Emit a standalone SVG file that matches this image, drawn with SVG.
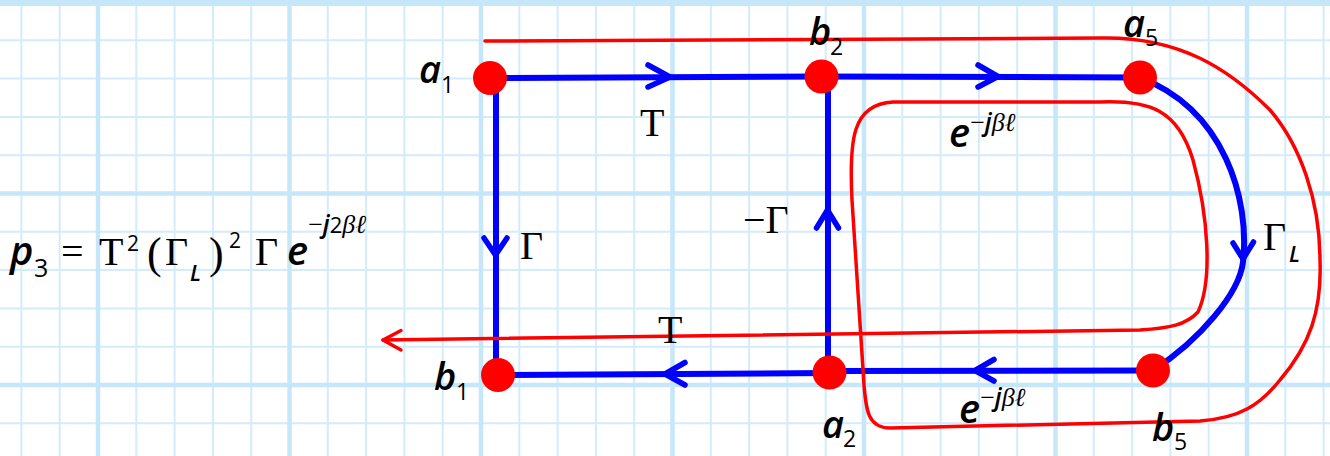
<svg xmlns="http://www.w3.org/2000/svg" width="1330" height="456" viewBox="0 0 1330 456">
<style>
.gmin{stroke:#d3ecfc;stroke-width:2;fill:none}
.gmaj{stroke:#c6e6fa;stroke-width:4.5;fill:none}
.edge{stroke:#0000ff;stroke-width:6;fill:none}
.arr{stroke:#0000ff;stroke-width:5.5;fill:none;stroke-linecap:round;stroke-linejoin:round}
.red{stroke:#ff0000;stroke-width:3.5;fill:none;stroke-linecap:round;stroke-linejoin:round}
.node{fill:#ff0000}
.it{font-family:"Open Sans","Noto Sans","Liberation Sans",sans-serif;font-style:italic;font-weight:600;fill:#000}
.sub{font-family:"Open Sans","Noto Sans","Liberation Sans",sans-serif;fill:#000}
.sr{font-family:"Liberation Serif","DejaVu Serif",serif;fill:#000}
.si{font-family:"Liberation Serif","DejaVu Serif",serif;font-style:italic;fill:#000}
</style>
<rect width="1330" height="456" fill="#ffffff"/>
<g id="grid">
<path class="gmin" d="M21.4 0V456M59.7 0V456M136.3 0V456M174.6 0V456M212.9 0V456M251.2 0V456M327.8 0V456M366.1 0V456M404.4 0V456M442.7 0V456M519.3 0V456M557.6 0V456M595.9 0V456M634.2 0V456M710.8 0V456M749.1 0V456M787.4 0V456M825.7 0V456M902.3 0V456M940.6 0V456M978.9 0V456M1017.2 0V456M1093.8 0V456M1132.1 0V456M1170.4 0V456M1208.7 0V456M1285.3 0V456M1323.6 0V456M0 40.3H1330M0 78.6H1330M0 116.9H1330M0 155.2H1330M0 231.8H1330M0 270.1H1330M0 308.4H1330M0 346.7H1330M0 423.3H1330"/>
<path class="gmaj" d="M98 0V456M289.5 0V456M481 0V456M672.5 0V456M864 0V456M1055.5 0V456M1247 0V456M0 193.5H1330M0 385H1330"/>
<rect x="0" y="0" width="1330" height="6" fill="#c6e6fa"/>
</g>
<g id="connectors">
<path class="edge" d="M490 78L821.5 76.5L1140 77.5"/>
<path class="edge" d="M496 78V375"/>
<path class="edge" d="M828 76.5V372.5"/>
<path class="edge" d="M498 375L829.5 373"/>
<path class="edge" d="M829.5 371L1153 370.5"/>
<path class="edge" d="M1140 77.5C1225 110 1250 200 1243 262C1239.5 293 1200 340 1153 370.5"/>
<polyline class="arr" points="648,65 670,77 648,87"/>
<polyline class="arr" points="978,65 998,76.5 978,87"/>
<polyline class="arr" points="484,238 495.5,255 507,238"/>
<polyline class="arr" points="816.5,228 827.5,210 838.5,228"/>
<polyline class="arr" points="1233,243 1243,259 1253.5,242"/>
<polyline class="arr" points="685,362.5 665,374 685,385"/>
<polyline class="arr" points="994,359.5 975,370.5 994,381"/>
<path class="red" d="M485 41L1100 38C1180 36 1230 70 1270 110C1300 145 1320 200 1320 260C1322 310 1310 345 1280 380C1260 405 1240 418 1200 421L890 428C868 428 866 410 864 385L852 200C849 140 852 104 893 102L1100 102C1150 100 1178 110 1193 160C1208 215 1213 280 1198 312C1186 325 1170 328 1140 330L383 340"/>
<polyline class="red" points="401,330.5 383,340 401,350"/>
</g>
<g id="node-a1"><circle class="node" cx="490" cy="78" r="17"/><text class="it" x="419" y="83" font-size="38">a</text><text class="sub" x="441" y="93" font-size="23">1</text></g>
<g id="node-b2"><circle class="node" cx="821.5" cy="76.5" r="17"/><text class="it" x="809" y="45" font-size="38">b</text><text class="sub" x="830" y="55" font-size="23">2</text></g>
<g id="node-a5"><circle class="node" cx="1140" cy="77.5" r="17"/><text class="it" x="1123" y="37" font-size="38">a</text><text class="sub" x="1145" y="46" font-size="23">5</text></g>
<g id="node-b1"><circle class="node" cx="498" cy="375" r="17"/><text class="it" x="434" y="390" font-size="38">b</text><text class="sub" x="456" y="400" font-size="23">1</text></g>
<g id="node-a2"><circle class="node" cx="829.5" cy="372.5" r="17"/><text class="it" x="822" y="438" font-size="38">a</text><text class="sub" x="843" y="447" font-size="23">2</text></g>
<g id="node-b5"><circle class="node" cx="1153" cy="370.5" r="17"/><text class="it" x="1152" y="441" font-size="38">b</text><text class="sub" x="1174" y="450" font-size="23">5</text></g>
<g id="labels">
<text class="sr" x="640" y="136" font-size="40">T</text>
<text class="sr" x="658" y="343" font-size="40">T</text>
<text class="sr" x="520" y="259" font-size="40">Γ</text>
<text class="sr" x="743" y="233" font-size="40">−Γ</text>
<text class="sr" x="1263" y="250" font-size="40">Γ</text><text class="it" x="1289" y="262" font-size="22">L</text>
<text x="949" y="147"><tspan class="it" font-size="40">e</tspan><tspan class="sr" font-size="26" dy="-16">−</tspan><tspan class="it" font-size="25" font-weight="400">j</tspan><tspan class="si" font-size="26">βℓ</tspan></text>
<text x="959" y="423"><tspan class="it" font-size="40">e</tspan><tspan class="sr" font-size="26" dy="-17">−</tspan><tspan class="it" font-size="25" font-weight="400">j</tspan><tspan class="si" font-size="26">βℓ</tspan></text>
</g>
<g id="formula">
<text class="it" x="10" y="265" font-size="40">p</text>
<text class="sub" x="34" y="277" font-size="25">3</text>
<text class="sr" x="61" y="265" font-size="40">=</text>
<text class="sr" x="99" y="265" font-size="40">T</text>
<text class="sub" x="127" y="251" font-size="21">2</text>
<text class="sr" x="147" y="268" font-size="44">(</text>
<text class="sr" x="165" y="265" font-size="40">Γ</text>
<text class="it" x="190" y="281" font-size="22">L</text>
<text class="sr" x="209" y="268" font-size="44">)</text>
<text class="sub" x="229" y="248" font-size="21">2</text>
<text class="sr" x="255" y="265" font-size="40">Γ</text>
<text x="287" y="265"><tspan class="it" font-size="40">e</tspan><tspan class="sr" font-size="26" dy="-32">−</tspan><tspan class="it" font-size="25" font-weight="400">j</tspan><tspan class="sub" font-size="22">2</tspan><tspan class="si" font-size="26">βℓ</tspan></text>
</g>
</svg>
